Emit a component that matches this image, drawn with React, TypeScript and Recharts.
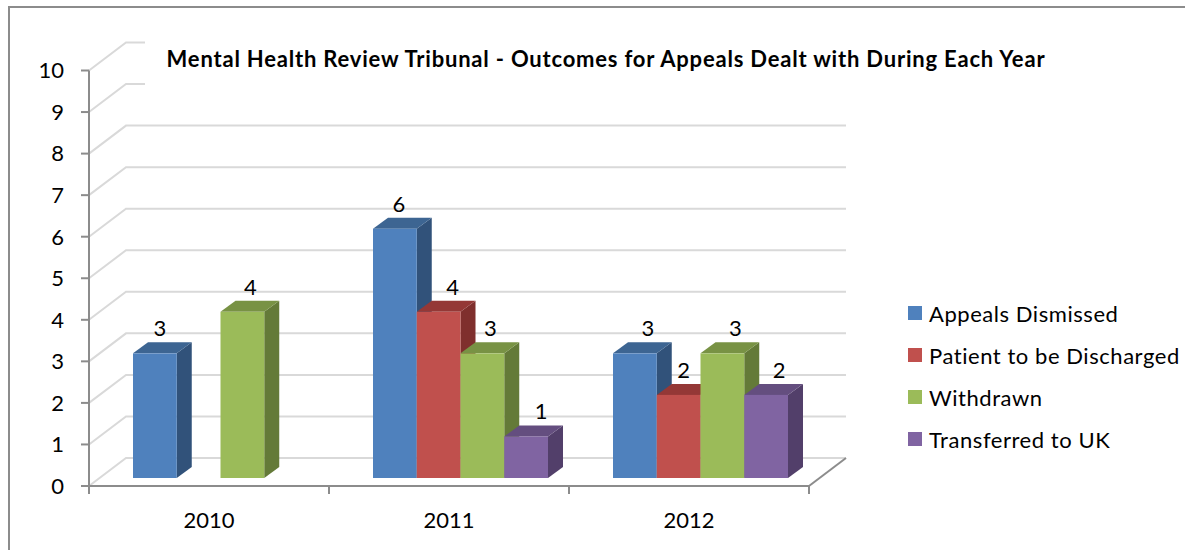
import React from 'react';
import { BarChart, Bar, XAxis, YAxis, CartesianGrid, LabelList, Legend } from 'recharts';

const categories = ['2010', '2011', '2012'];
const appealsDismissed = [3, 6, 3];
const patientDischarged = [null, 4, 2];
const withdrawn = [4, 3, 3];
const transferredToUK = [null, 1, 2];
const yTicks = [0, 1, 2, 3, 4, 5, 6, 7, 8, 9, 10];

const rows = categories.map((year, i) => ({
  year,
  a: appealsDismissed[i],
  p: patientDischarged[i],
  w: withdrawn[i],
  t: transferredToUK[i],
}));

const seriesDefs = [
  { key: 'a', name: 'Appeals Dismissed', front: '#4f81bd', side: '#31527a', top: '#3d6592', nudge: [-1, -2, 7] },
  { key: 'p', name: 'Patient to be Discharged', front: '#c0504d', side: '#7f2f2d', top: '#943836', nudge: [0, 8, -1] },
  { key: 'w', name: 'Withdrawn', front: '#9bbb59', side: '#647a38', top: '#789244', nudge: [2, 2, 7] },
  { key: 't', name: 'Transferred to UK', front: '#8064a2', side: '#523f6a', top: '#644e7f', nudge: [0, 9, 7] },
];

const FONT = 'Lato, Carlito, Calibri, sans-serif';
const DEPTH_X = 37;
const DEPTH_Y = 28;
const BAR_SHIFT_X = 11;
const BAR_SHIFT_Y = 8;
const SIDE_X = 15;
const SIDE_Y = 11;
const HALF_BAND = 120;
const PLOT_LEFT = 89;
const GRID = '#d9d9d9';
const AXIS = '#8c8c8c';
const AXIS_Y = 486;

const Bar3D = (props: any) => {
  const { x, y, width, height, payload, dataKey } = props;
  const def = seriesDefs.find((s) => s.key === dataKey)!;
  if (payload[def.key] == null) return null;
  const l = x + BAR_SHIFT_X;
  const t = y - BAR_SHIFT_Y;
  const r = l + width;
  const b = t + height;
  return (
    <g>
      <polygon points={`${r},${t} ${r + SIDE_X},${t - SIDE_Y} ${r + SIDE_X},${b - SIDE_Y} ${r},${b}`} fill={def.side} />
      <polygon points={`${l},${t} ${r},${t} ${r + SIDE_X},${t - SIDE_Y} ${l + SIDE_X},${t - SIDE_Y}`} fill={def.top} />
      <rect x={l} y={t} width={width} height={height} fill={def.front} />
    </g>
  );
};

const GridLine = (props: any) => {
  const { x1, x2, y1 } = props;
  return (
    <polyline
      points={`${x1},${y1} ${x1 + DEPTH_X},${y1 - DEPTH_Y} ${x2 + DEPTH_X},${y1 - DEPTH_Y}`}
      fill="none"
      stroke={GRID}
      strokeWidth={2}
    />
  );
};

const XTick = (props: any) => {
  const { x, payload, index } = props;
  return (
    <g>
      <line x1={x - HALF_BAND} x2={x - HALF_BAND} y1={AXIS_Y} y2={AXIS_Y + 8} stroke={AXIS} strokeWidth={2} />
      {index === categories.length - 1 && (
        <>
          <line x1={x + HALF_BAND} x2={x + HALF_BAND} y1={AXIS_Y} y2={AXIS_Y + 8} stroke={AXIS} strokeWidth={2} />
          <line x1={x + HALF_BAND} x2={x + HALF_BAND + DEPTH_X} y1={AXIS_Y} y2={AXIS_Y - DEPTH_Y} stroke={AXIS} strokeWidth={2} />
        </>
      )}
      <text x={x} y={528} textAnchor="middle" fontSize={22} fontFamily={FONT} fill="#000">
        {payload.value}
      </text>
    </g>
  );
};

const BarLabel = (props: any) => {
  const { x, y, width, value, nudge } = props;
  if (value == null) return null;
  const cat = Math.floor((x - PLOT_LEFT) / (HALF_BAND * 2));
  return (
    <text x={x + width / 2 + BAR_SHIFT_X + 6 + nudge[cat]} y={y - BAR_SHIFT_Y - 17} textAnchor="middle" fontSize={22} fontFamily={FONT} fill="#000">
      {value}
    </text>
  );
};

const LegendBox = () => (
  <div style={{ fontFamily: FONT, fontSize: 22, color: '#000', letterSpacing: 0.55 }}>
    {seriesDefs.map((s) => (
      <div key={s.key} style={{ display: 'flex', alignItems: 'center', height: 42, whiteSpace: 'nowrap' }}>
        <span style={{ display: 'inline-block', width: 14, height: 14, background: s.front, marginRight: 7 }} />
        {s.name}
      </div>
    ))}
  </div>
);

export default function App() {
  return (
    <div style={{ position: 'absolute', left: 0, top: 0, width: 1185, height: 550, background: '#fff', overflow: 'hidden' }}>
      <div style={{ position: 'absolute', left: 8, top: 6, width: 1200, height: 600, borderLeft: '2px solid #8c8c8c', borderTop: '2px solid #8c8c8c', boxSizing: 'border-box' }} />
      <BarChart
        width={1185}
        height={550}
        data={rows}
        margin={{ top: 70.5, right: 376, bottom: 24, left: 49 }}
        barCategoryGap={32}
        barGap={0}
        style={{ position: 'absolute', left: 0, top: 0 }}
      >
        <CartesianGrid vertical={false} horizontal={GridLine as any} />
        <XAxis
          dataKey="year"
          height={40}
          axisLine={{ stroke: AXIS, strokeWidth: 2 }}
          tickLine={false}
          tick={XTick as any}
          interval={0}
          tickMargin={0}
        />
        <YAxis
          width={40}
          domain={[0, 10]}
          ticks={yTicks}
          interval={0}
          axisLine={{ stroke: AXIS, strokeWidth: 2 }}
          tickLine={{ stroke: AXIS, strokeWidth: 2 }}
          tickSize={8}
          tickMargin={17}
          tick={{ fontSize: 22, fontFamily: FONT, fill: '#000' }}
        />
        <Legend
          layout="vertical"
          verticalAlign="middle"
          align="center"
          content={LegendBox as any}
          wrapperStyle={{ left: 908, top: 292, width: 277 }}
        />
        {seriesDefs.map((s) => (
          <Bar key={s.key} dataKey={s.key} name={s.name} barSize={43.75} shape={Bar3D as any} isAnimationActive={false}>
            <LabelList dataKey={s.key} content={((p: any) => <BarLabel {...p} nudge={s.nudge} />) as any} />
          </Bar>
        ))}
        <rect x={145} y={32} width={920} height={64} fill="#fff" />
        <text x={606} y={67} textAnchor="middle" fontSize={22} fontWeight={700} letterSpacing={0.8} fontFamily={FONT} fill="#000">
          Mental Health Review Tribunal - Outcomes for Appeals Dealt with During Each Year
        </text>
      </BarChart>
    </div>
  );
}
